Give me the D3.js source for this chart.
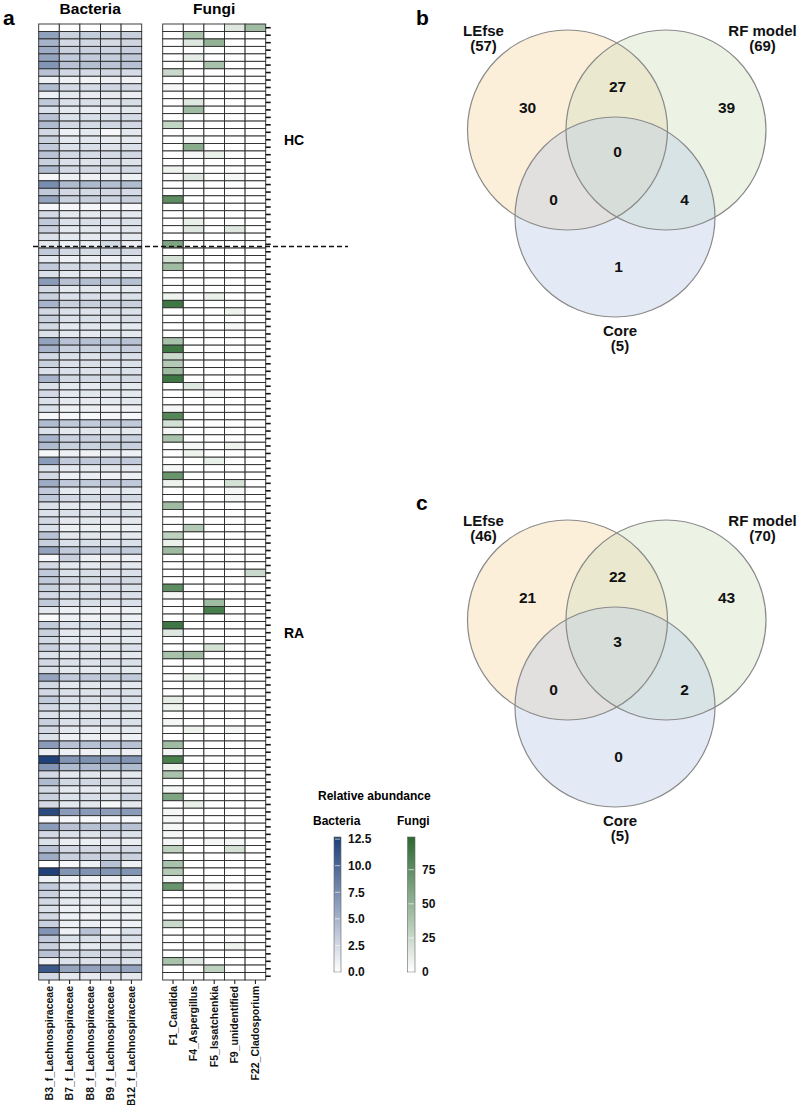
<!DOCTYPE html>
<html><head><meta charset="utf-8">
<script src="https://cdn.jsdelivr.net/npm/d3@7"></script>
<style>
body{margin:0;background:#fff;}
svg text{font-family:"Liberation Sans",Arial,Helvetica,sans-serif;}
</style>
</head><body>
<svg id="c" width="800" height="1105"></svg>
<script>
// ---------------- DATA ----------------
const bacteriaTaxa = ["B3_f_Lachnospiraceae","B7_f_Lachnospiraceae","B8_f_Lachnospiraceae","B9_f_Lachnospiraceae","B12_f_Lachnospiraceae"];
const fungiTaxa = ["F1_Candida","F4_Aspergillus","F5_Issatchenkia","F9_unidentified","F22_Cladosporium"];
const groupNames = ["HC","RA"];
const groupSizes = [30,98];

const B3 = [0,6.2,5,5.5,6,7,4,1,4.5,1, 3.5,2,4,4.5,2.5,3,3.5,4,3,4.5, 0.5,7.5,3.5,6,0.5,2.5,3.5,3,2,1.5,
 3.5,1.5,3.5,2,6.5,2.5,3,5,2.5,3, 2.5,2,6,5,2.5,3,2,5,2,2.5, 2,2,0.5,4.5,2,5,4.5,0.5,6.5,2,
 2.5,5.5,3.5,3.5,2,2,2.5,2,4,3, 6,0.5,2.5,3.5,3.5,3,2.5,3.5,1.5,0.3, 3.5,3,2.5,3,2,2.5,2,6,2.5,2.5,
 3.5,2.5,2,3,2.5,2,6.5,1,12.5,7, 2.5,4.5,2.5,3,2.5,12,0.3,6.5,2.5,2, 4,5.5,0,12.5,1,3.5,3,2.5,2,2.5,
 3,7,3.5,3,4,1,11,2.5];
const B7 = [0,3,2.5,3,3.5,4,2.5,1,2.5,1.5, 2,1.5,2,2.5,1,1.5,2,2.5,2,2.5, 1,4.5,2.5,3,0.5,1.5,2,1.5,1.5,1,
 2.5,1,2.5,1.5,4,1.5,2,3,2,2, 1.5,1.5,4,3,2,2,2,2.5,1.5,1.5, 1.5,1,0.5,3.5,1.5,3,3,1,3.5,1.5,
 1,3.5,1.5,2.5,1.5,2,1.5,1,1.5,2, 3.5,3,1.5,2,2.5,2,2,2,1,1, 2,1.5,1.5,2,1.5,2,1.5,3.5,1.5,2,
 2,2,1.5,2,1.5,1,4,1,7,4.5, 1.5,2.5,1.5,2,1.5,6.5,0.5,4,2,1.2, 2.5,3,0.5,7,1,2,1.5,1.5,1,1,
 1,1,2,1.5,2.5,2,6,1.5];
const B8 = [0,3.3,2.6,3.1,3.4,4.2,2.4,0.8,2.4,1.3, 2.1,1.3,2.2,2.4,1.5,1.6,2.1,2.3,1.8,2.6, 0.9,4.6,2.4,3.2,0.6,1.4,2.1,1.6,1.4,1.1,
 2.4,1.1,2.6,1.4,4.2,1.6,2.1,3.1,1.9,2.1, 1.6,1.4,4.1,3.1,1.9,2.1,1.9,2.6,1.4,1.6, 1.4,1.1,0.4,3.4,1.6,3.1,2.9,0.9,3.6,1.4,
 1.1,3.4,1.6,2.4,1.4,1.9,1.6,1.1,1.6,2.1, 3.6,1.1,1.4,2.1,2.4,1.9,2.1,2.1,1.1,0.9, 2.1,1.6,1.4,2.1,1.6,1.9,1.4,3.6,1.6,1.9,
 2.1,1.9,1.6,2.1,1.4,1.1,4.1,0.9,7.2,4.6, 1.6,2.6,1.4,2.1,1.6,6.6,0.4,4.1,1.9,1.1, 2.6,3.1,1,7.1,0.9,2.1,1.6,1.4,1.1,0.9,
 1.1,4,2.1,1.4,2.6,1.9,6.1,1.4];
const B9 = [0,2.8,2.4,2.9,3.3,3.8,2.6,1.1,2.7,1.4, 1.9,1.4,2.1,2.6,0.5,1.4,1.9,2.4,2.1,2.4, 1.1,4.2,2.6,2.9,0.4,1.6,1.9,1.4,1.3,2.5,
 2.6,0.9,2.4,1.6,3.8,1.4,1.9,2.9,2.1,1.9, 1.4,1.6,3.9,2.9,2.1,1.9,2.1,2.4,1.6,1.4, 1.5,0.9,0.6,3.6,1.4,2.9,3.1,1.1,3.4,1.6,
 0.9,3.6,1.4,2.6,1.6,2.1,1.4,0.9,1.4,1.9, 3.4,0.9,1.6,1.9,2.6,2.1,1.9,1.9,0.9,1.1, 1.9,1.4,1.6,1.9,1.4,2.1,1.6,3.4,1.4,2.1,
 1.9,2.1,1.4,1.9,1.6,0.9,3.9,1.1,6.8,4.4, 1.4,2.4,1.6,1.9,0.5,6.4,0.6,3.9,2.1,1.3, 2.4,2.9,4,6.9,1.1,1.9,1.4,1.6,0.9,1.1,
 0.9,1,1.9,1.6,2.4,2.1,5.9,1.6];
const B12 = [0,3.1,2.7,3.2,3.6,4.1,2.3,0.9,2.6,1.2, 2.2,1.6,2.3,2.5,1.5,1.5,2,2.6,1.9,2.5, 1,4.4,2.3,3.1,0.5,1.5,2,1.7,1.5,1.2,
 2.5,1,2.5,1.5,4.1,1.5,2,3,2,2.2, 1.5,1.5,4,3.2,2,2,2,2.5,1.5,1.5, 1.6,1,0.5,3.5,1.5,3,3,1,3.5,1.5,
 1,3.5,1.5,2.5,1.5,2,1.5,1,1.5,2, 3.5,1,1.5,2,2.5,2,2,2,1,1, 2,1.5,1.5,2,1.5,2,1.5,3.5,1.5,2,
 2,2,1.5,2,1.5,1,4,1,7,4.5, 1.5,2.5,1.5,3,1.5,6.5,0.5,4,2,1.2, 2.5,3,1,7,1,2,1.5,1.5,1,1,
 1,2,2,1.5,2.5,2,6,1.5];

const F1 = [0,0,0,0,0,0,25,0,5,0, 0,0,0,28,0,0,0,0,0,8, 0,0,0,75,0,0,0,0,0,60,
 0,20,45,0,0,0,8,90,0,0, 0,0,40,90,25,35,45,90,0,0, 0,5,80,20,5,40,0,0,0,5,
 70,8,0,0,45,0,0,0,30,10, 45,0,0,0,0,75,5,0,0,0, 90,15,0,0,40,0,0,0,0,0,
 12,8,0,5,0,0,45,5,85,8, 40,0,5,60,0,5,5,5,5,5, 30,0,40,35,5,70,0,0,0,0,
 25,0,0,0,0,40,0,0];
const F4 = [0,40,15,0,12,0,0,0,0,0, 15,45,0,0,0,5,55,5,0,0, 15,0,0,0,0,0,10,15,0,0,
 0,0,0,0,0,0,0,0,0,0, 0,0,0,0,0,0,0,0,15,0, 0,0,0,0,0,0,5,8,0,0,
 0,0,0,0,0,0,0,35,0,0, 0,0,0,0,0,0,0,0,0,0, 0,0,0,0,45,0,0,10,0,0,
 0,0,0,0,8,0,0,0,0,0, 0,0,0,0,10,0,0,0,0,0, 0,0,0,0,0,0,0,0,0,0,
 0,0,0,0,0,15,0,3];
const F5 = [0,0,50,0,0,40,0,0,0,0, 0,0,0,0,0,0,0,10,0,0, 0,0,0,0,0,0,0,0,0,0,
 0,0,0,0,0,0,10,0,0,0, 0,0,0,0,0,0,0,0,0,5, 0,0,0,0,0,0,0,0,10,0,
 0,0,0,0,0,0,0,0,0,0, 0,0,0,0,0,0,0,45,85,0, 0,0,0,20,0,0,0,0,0,0,
 0,0,0,0,0,0,0,0,0,0, 0,0,0,0,0,0,0,0,0,5, 0,0,0,0,0,5,0,0,0,0,
 0,0,0,0,0,0,30,0];
const F9 = [15,0,0,0,0,0,0,0,0,0, 0,0,0,0,0,0,0,0,0,0, 5,0,0,0,0,0,0,15,0,0,
 0,0,0,0,0,0,0,0,8,0, 5,0,0,0,0,0,0,0,0,0, 0,0,0,0,0,0,8,0,0,0,
 0,20,5,5,0,0,0,0,0,0, 0,0,0,0,0,0,0,0,0,0, 0,0,0,0,0,0,0,0,0,0,
 0,0,0,0,5,0,0,0,0,0, 0,0,0,0,0,0,0,0,0,5, 20,0,0,0,0,0,0,0,0,0,
 0,0,0,8,0,0,0,0];
const F22 = [45,0,0,0,0,0,0,0,0,0, 0,0,0,0,0,0,0,0,0,0, 0,0,0,0,0,0,0,0,0,0,
 0,0,0,0,0,0,0,0,0,0, 0,0,0,0,0,0,0,0,0,0, 0,0,0,0,0,0,0,0,0,0,
 0,0,0,0,0,0,0,0,0,0, 0,0,0,25,0,0,0,0,0,0, 0,0,0,0,0,0,0,0,0,0,
 0,0,0,0,0,0,0,0,0,0, 0,0,0,0,0,0,0,0,0,0, 0,0,0,0,0,0,0,0,0,0,
 0,0,0,0,0,0,0,0];

const bactTicks = [0,2.5,5,7.5,10,12.5];
const fungTicks = [0,25,50,75];

const vennSets = ["LEfse","RF model","Core"];
const vennRegionKeys = ["A","AB","B","ABC","AC","BC","C"];
const vennB_sizes = [57,69,5];
const vennB_regions = [30,27,39,0,0,4,1];
const vennC_sizes = [46,70,5];
const vennC_regions = [21,22,43,3,0,2,0];

// ---------------- DRAW ----------------
const svg = d3.select("#c");
const FONT = '"Liberation Sans",Arial,Helvetica,sans-serif';
const nRows = B3.length;
const rowIds = d3.range(nRows);
const y = d3.scaleBand().domain(rowIds).range([24, 980]);
const yLin = d3.scaleLinear().domain([0, nRows]).range([24, 980]);
const xB = d3.scaleBand().domain(bacteriaTaxa).range([38.7, 141.7]);
const xF = d3.scaleBand().domain(fungiTaxa).range([162.7, 265.7]);
const bactCols = [B3,B7,B8,B9,B12];
const fungCols = [F1,F4,F5,F9,F22];
const bactMax = 12.7, fungMax = 99;
const cB = d3.scaleLinear().domain([0,bactMax]).range(["#ffffff","#1c3e78"]).interpolate(d3.interpolateRgb);
const cF = d3.scaleLinear().domain([0,fungMax]).range(["#ffffff","#2b6930"]).interpolate(d3.interpolateRgb);

function cells(taxa, cols){
  const out=[];
  taxa.forEach((t,j)=>cols[j].forEach((v,i)=>out.push({t,i,v})));
  return out;
}
svg.append("g").selectAll("rect").data(cells(bacteriaTaxa,bactCols)).join("rect")
  .attr("x",d=>xB(d.t)).attr("y",d=>y(d.i)).attr("width",xB.bandwidth()).attr("height",y.bandwidth())
  .attr("fill",d=>cB(d.v)).attr("stroke","#2a2a2a").attr("stroke-width",0.9);
svg.append("g").selectAll("rect").data(cells(fungiTaxa,fungCols)).join("rect")
  .attr("x",d=>xF(d.t)).attr("y",d=>y(d.i)).attr("width",xF.bandwidth()).attr("height",y.bandwidth())
  .attr("fill",d=>cF(d.v)).attr("stroke","#2a2a2a").attr("stroke-width",0.9);

// bottom axes
function bottomAxis(x){
  const g = svg.append("g").attr("transform","translate(0,980)")
    .call(d3.axisBottom(x).tickSize(4).tickSizeOuter(0));
  g.attr("font-family",FONT);
  g.select(".domain").remove();
  g.selectAll("line").attr("stroke","#111").attr("stroke-width",1);
  g.selectAll("text").attr("transform","rotate(-90)").attr("x",-6).attr("y",0).attr("dy","0.35em")
    .style("text-anchor","end").style("font-size","10.5px").style("font-weight","bold").attr("fill","#111");
}
bottomAxis(xB); bottomAxis(xF);

// right row ticks
const axR = svg.append("g").attr("transform","translate(265.7,0)")
  .call(d3.axisRight(y).tickSize(5).tickFormat(""));
axR.select(".domain").remove();
axR.selectAll("line").attr("stroke","#111").attr("stroke-width",1.6);

// titles
svg.append("text").attr("x",3).attr("y",25).text("a").attr("font-size",21).attr("font-weight","bold");
svg.append("text").attr("x",(xB.range()[0]+xB.range()[1])/2).attr("y",14).attr("text-anchor","middle")
  .text("Bacteria").attr("font-size",15.5).attr("font-weight","bold");
svg.append("text").attr("x",(xF.range()[0]+xF.range()[1])/2).attr("y",14).attr("text-anchor","middle")
  .text("Fungi").attr("font-size",15.5).attr("font-weight","bold");

// group separator & labels
const sepRow = groupSizes[0];
svg.append("line").attr("x1",33).attr("x2",348).attr("y1",yLin(sepRow)-1.5).attr("y2",yLin(sepRow)-1.5)
  .attr("stroke","#111").attr("stroke-width",1.4).attr("stroke-dasharray","5,3");
const groupLabelRow = [16.2, 82.2];
groupNames.forEach((g,i)=>{
  svg.append("text").attr("x",284).attr("y",yLin(groupLabelRow[i])).text(g)
    .attr("font-size",14).attr("font-weight","bold");
});

// legends
const defs = svg.append("defs");
function gradient(id, scale, max){
  const lg = defs.append("linearGradient").attr("id",id).attr("x1",0).attr("y1",1).attr("x2",0).attr("y2",0);
  d3.range(0,1.0001,0.1).forEach(t=>lg.append("stop").attr("offset",t).attr("stop-color",scale(t*max)));
}
gradient("gB",cB,bactMax); gradient("gF",cF,fungMax);
svg.append("text").attr("x",318).attr("y",800).text("Relative abundance").attr("font-size",12).attr("font-weight","bold");
svg.append("text").attr("x",313).attr("y",825).text("Bacteria").attr("font-size",12).attr("font-weight","bold");
svg.append("text").attr("x",397).attr("y",825).text("Fungi").attr("font-size",12).attr("font-weight","bold");

function colorbar(x0, w, grad, max, ticks, fmt){
  const s = d3.scaleLinear().domain([0,max]).range([972,837]);
  svg.append("rect").attr("x",x0).attr("y",837).attr("width",w).attr("height",135)
    .attr("fill",`url(#${grad})`).attr("stroke","#666").attr("stroke-width",0.6);
  svg.append("g").selectAll("line").data(ticks).join("line")
    .attr("x1",x0+1).attr("x2",x0+w-1).attr("y1",d=>s(d)).attr("y2",d=>s(d))
    .attr("stroke","#fff").attr("stroke-width",0.8).attr("opacity",0.8);
  const g = svg.append("g").attr("transform",`translate(${x0+w},0)`)
    .call(d3.axisRight(s).tickValues(ticks).tickSize(0).tickPadding(7).tickFormat(fmt));
  g.attr("font-family",FONT);
  g.select(".domain").remove();
  g.selectAll("text").style("font-size","12px").style("font-weight","bold").attr("fill","#111");
}
colorbar(334, 7, "gB", bactMax, bactTicks, d3.format(".1f"));
colorbar(407.5, 7.5, "gF", fungMax, fungTicks, d3.format("d"));

// Venn diagrams
const circleCenters = [[-0.49,-0.29],[0.495,-0.29],[-0.015,0.58]];
const circleFills = ["#f9dcae","#cfe0bf","#bccbe5"];
const circleOpac = [0.45,0.4,0.4];
const regionPos = [[-0.89,-0.515],[0.01,-0.73],[1.10,-0.52],[0.01,-0.08],[-0.63,0.40],[0.68,0.40],[0.02,1.07]];
const setLabelPos = [[-1.33,-1.235],[1.46,-1.235],[0.035,1.765]];

function venn(cx, cy, sizes, regions){
  const R = 100;
  const sx = d3.scaleLinear().domain([-1,1]).range([cx-R, cx+R]);
  const sy = d3.scaleLinear().domain([-1,1]).range([cy-R, cy+R]);
  const g = svg.append("g");
  g.selectAll("circle.f").data(vennSets).join("circle").attr("class","f")
    .attr("cx",(d,i)=>sx(circleCenters[i][0])).attr("cy",(d,i)=>sy(circleCenters[i][1])).attr("r",R)
    .attr("fill",(d,i)=>circleFills[i]).attr("fill-opacity",(d,i)=>circleOpac[i]);
  g.selectAll("circle.s").data(vennSets).join("circle").attr("class","s")
    .attr("cx",(d,i)=>sx(circleCenters[i][0])).attr("cy",(d,i)=>sy(circleCenters[i][1])).attr("r",R)
    .attr("fill","none").attr("stroke","#8a8a8a").attr("stroke-width",1.2);
  g.selectAll("text.r").data(regions).join("text").attr("class","r")
    .attr("x",(d,i)=>sx(regionPos[i][0])).attr("y",(d,i)=>sy(regionPos[i][1])).attr("dy","0.36em")
    .attr("text-anchor","middle").attr("font-size",15.5).attr("font-weight","bold").attr("fill","#111").text(d=>d);
  vennSets.forEach((s,i)=>{
    g.append("text").attr("x",sx(setLabelPos[i][0])).attr("y",sy(setLabelPos[i][1]))
      .attr("text-anchor","middle").attr("font-size",15).attr("font-weight","bold").attr("fill","#111").text(s);
    g.append("text").attr("x",sx(setLabelPos[i][0])).attr("y",sy(setLabelPos[i][1]+0.155))
      .attr("text-anchor","middle").attr("font-size",15).attr("font-weight","bold").attr("fill","#111").text(`(${sizes[i]})`);
  });
}
venn(616.5, 159, vennB_sizes, vennB_regions);
venn(616.5, 649, vennC_sizes, vennC_regions);
svg.append("text").attr("x",416).attr("y",25).text("b").attr("font-size",21).attr("font-weight","bold");
svg.append("text").attr("x",416).attr("y",510).text("c").attr("font-size",21).attr("font-weight","bold");
</script>
</body></html>
